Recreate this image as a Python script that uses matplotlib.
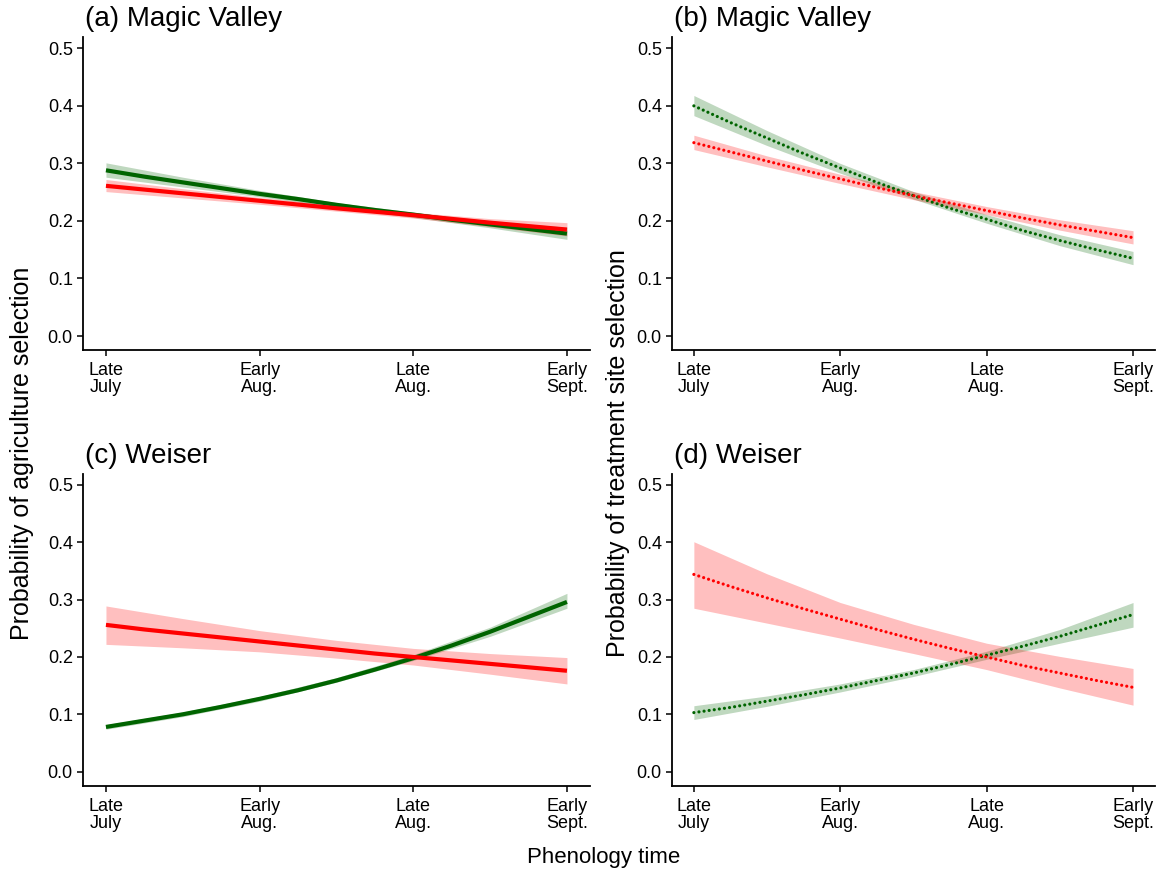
import matplotlib
matplotlib.use("Agg")
import matplotlib.pyplot as plt

plt.rcParams['font.family'] = ['Liberation Sans', 'DejaVu Sans']

# ---------------- data ----------------
line_x = [0, 0.25, 0.5, 0.75, 1, 1.25, 1.5, 1.75, 2, 2.25, 2.5, 2.75, 3]
band_x = [0, 0.5, 1, 1.5, 2, 2.5, 3]
tick_pos = [0, 1, 2, 3]
tick_labels = ["Late\nJuly", "Early\nAug.", "Late\nAug.", "Early\nSept."]
titles = ["(a) Magic Valley", "(b) Magic Valley", "(c) Weiser", "(d) Weiser"]
ylabel_left = "Probability of agriculture selection"
ylabel_right = "Probability of treatment site selection"
xlabel = "Phenology time"

# panel a (agriculture, Magic Valley)
a_green = [0.288, 0.277, 0.267, 0.257, 0.247, 0.238, 0.228, 0.219, 0.211, 0.202, 0.194, 0.186, 0.178]
a_green_lo = [0.276, 0.259, 0.242, 0.224, 0.206, 0.188, 0.168]
a_green_hi = [0.301, 0.276, 0.253, 0.232, 0.215, 0.200, 0.189]
a_red = [0.261, 0.2545, 0.248, 0.2415, 0.235, 0.2285, 0.222, 0.216, 0.210, 0.2035, 0.197, 0.191, 0.185]
a_red_lo = [0.251, 0.240, 0.229, 0.217, 0.205, 0.190, 0.174]
a_red_hi = [0.272, 0.256, 0.241, 0.227, 0.215, 0.204, 0.197]

# panel b (treatment site, Magic Valley)
b_green = [0.400, 0.371, 0.344, 0.317, 0.292, 0.267, 0.244, 0.222, 0.203, 0.183, 0.166, 0.150, 0.135]
b_green_lo = [0.383, 0.331, 0.283, 0.238, 0.196, 0.157, 0.124]
b_green_hi = [0.418, 0.357, 0.300, 0.251, 0.211, 0.176, 0.147]
b_red = [0.336, 0.320, 0.304, 0.288, 0.273, 0.258, 0.244, 0.231, 0.218, 0.205, 0.193, 0.182, 0.171]
b_red_lo = [0.324, 0.294, 0.265, 0.237, 0.211, 0.184, 0.160]
b_red_hi = [0.349, 0.313, 0.281, 0.251, 0.225, 0.202, 0.183]

# panel c (agriculture, Weiser)
c_green = [0.078, 0.089, 0.100, 0.113, 0.127, 0.142, 0.159, 0.178, 0.198, 0.220, 0.244, 0.270, 0.296]
c_green_lo = [0.074, 0.096, 0.123, 0.156, 0.194, 0.236, 0.285]
c_green_hi = [0.082, 0.104, 0.131, 0.164, 0.204, 0.252, 0.311]
c_red = [0.256, 0.248, 0.241, 0.234, 0.227, 0.220, 0.213, 0.206, 0.200, 0.194, 0.188, 0.182, 0.176]
c_red_lo = [0.222, 0.216, 0.209, 0.198, 0.186, 0.170, 0.153]
c_red_hi = [0.289, 0.267, 0.246, 0.229, 0.215, 0.206, 0.199]

# panel d (treatment site, Weiser)
d_green = [0.103, 0.112, 0.123, 0.134, 0.146, 0.159, 0.172, 0.187, 0.203, 0.219, 0.236, 0.255, 0.274]
d_green_lo = [0.091, 0.114, 0.139, 0.166, 0.196, 0.224, 0.252]
d_green_hi = [0.115, 0.132, 0.153, 0.178, 0.210, 0.248, 0.295]
d_red = [0.344, 0.323, 0.303, 0.284, 0.266, 0.248, 0.231, 0.215, 0.200, 0.185, 0.172, 0.159, 0.147]
d_red_lo = [0.285, 0.259, 0.233, 0.206, 0.178, 0.146, 0.116]
d_red_hi = [0.401, 0.345, 0.295, 0.257, 0.224, 0.201, 0.180]

RED = "#FF0000"
GREEN = "#006400"

W, H = 1164, 882
fig = plt.figure(figsize=(W / 100, H / 100), dpi=100)


def add_axes_px(l, r, t, b):
    return fig.add_axes([l / W, 1 - b / H, (r - l) / W, (b - t) / H])


boxes = [
    (82.9, 590, 36.8, 350.4),
    (671.9, 1155, 36.8, 350.4),
    (82.9, 590, 473.5, 786),
    (671.9, 1155, 473.5, 786),
]

panels = [
    (a_green, a_green_lo, a_green_hi, a_red, a_red_lo, a_red_hi, "solid"),
    (b_green, b_green_lo, b_green_hi, b_red, b_red_lo, b_red_hi, "dotted"),
    (c_green, c_green_lo, c_green_hi, c_red, c_red_lo, c_red_hi, "solid"),
    (d_green, d_green_lo, d_green_hi, d_red, d_red_lo, d_red_hi, "dotted"),
]

for i, (box, p) in enumerate(zip(boxes, panels)):
    ax = add_axes_px(*box)
    g, glo, ghi, r, rlo, rhi, style = p
    ax.fill_between(band_x, glo, ghi, color=GREEN, alpha=0.25, lw=0)
    ax.fill_between(band_x, rlo, rhi, color=RED, alpha=0.25, lw=0)
    if style == "solid":
        ax.plot(line_x, g, color=GREEN, lw=3.0, solid_capstyle='butt',
                solid_joinstyle='round')
        ax.plot(line_x, r, color=RED, lw=3.0, solid_capstyle='butt',
                solid_joinstyle='round')
    else:
        ls = (0, (0.01, 1.6))
        ax.plot(line_x, g, color=GREEN, lw=2.3, linestyle=ls, dash_capstyle='round')
        ax.plot(line_x, r, color=RED, lw=2.3, linestyle=ls, dash_capstyle='round')
    ax.set_xlim(-0.15, 3.15)
    ax.set_ylim(-0.025, 0.52)
    ax.set_yticks([0.0, 0.1, 0.2, 0.3, 0.4, 0.5])
    ax.set_yticklabels(["0.0", "0.1", "0.2", "0.3", "0.4", "0.5"])
    ax.set_xticks(tick_pos)
    ax.set_xticklabels(tick_labels, linespacing=1.0)
    for s in ("top", "right"):
        ax.spines[s].set_visible(False)
    for s in ("left", "bottom"):
        ax.spines[s].set_linewidth(1.3)
        ax.spines[s].set_color("black")
    ax.tick_params(axis='both', direction='out', length=4.3, width=1.1,
                   colors='black', labelsize=13)
    ax.tick_params(axis='y', pad=3)
    ax.tick_params(axis='x', pad=4)
    ax.set_facecolor("white")
    l, rr, t, b = box
    fig.text((l + 2) / W, 1 - (t - 18) / H, titles[i], fontsize=20,
             ha='left', va='center', color='black')

fig.text(22 / W, 1 - 453 / H, ylabel_left, rotation=90, fontsize=18,
         ha='center', va='center')
fig.text(618 / W, 1 - 453 / H, ylabel_right, rotation=90, fontsize=18,
         ha='center', va='center')
fig.text(604 / W, 1 - 858 / H, xlabel, fontsize=16, ha='center', va='center')

fig.savefig("out.png", dpi=100, facecolor="white")
